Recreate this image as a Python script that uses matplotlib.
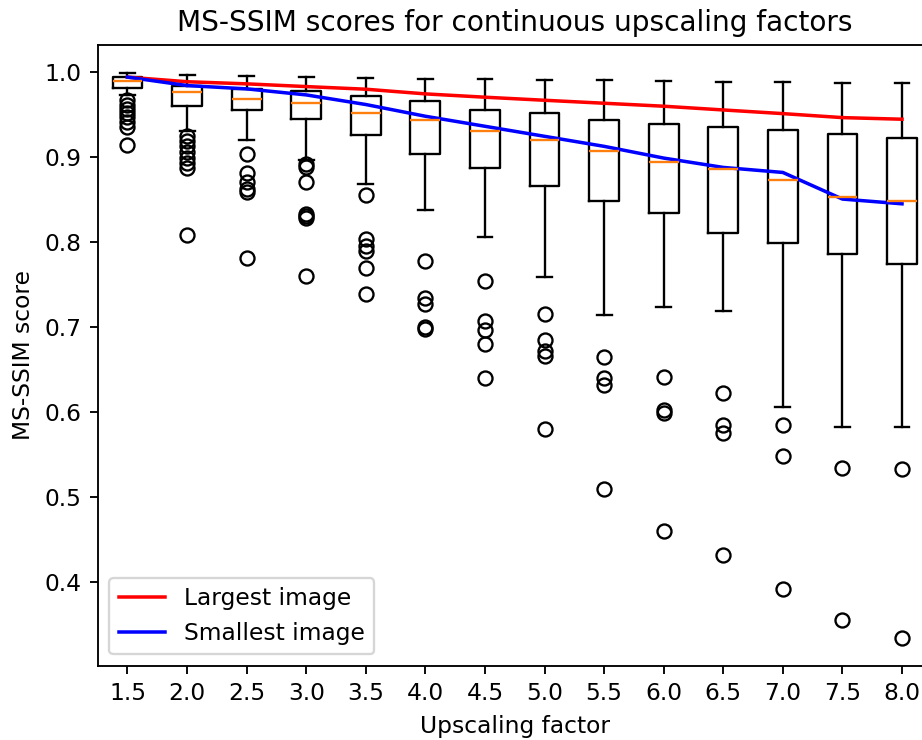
import numpy as np
import matplotlib
matplotlib.use("Agg")
import matplotlib.pyplot as plt

# upscaling factors (one box per factor)
factors = [1.5, 2.0, 2.5, 3.0, 3.5, 4.0, 4.5, 5.0, 5.5, 6.0, 6.5, 7.0, 7.5, 8.0]

# box statistics
whisker_hi = [0.998, 0.996, 0.995, 0.9937, 0.9926, 0.9914, 0.9914, 0.9906, 0.9898, 0.9887, 0.9879, 0.9875, 0.987, 0.9863]
q3 = [0.993, 0.9835, 0.980, 0.9776, 0.971, 0.965, 0.9545, 0.951, 0.9427, 0.938, 0.9344, 0.9312, 0.926, 0.9215]
medians = [0.9887, 0.9764, 0.968, 0.9627, 0.951, 0.9427, 0.930, 0.920, 0.9065, 0.8939, 0.8849, 0.872, 0.852, 0.8472]
q1 = [0.9808, 0.960, 0.955, 0.944, 0.9257, 0.903, 0.887, 0.8656, 0.8475, 0.8337, 0.810, 0.798, 0.785, 0.774]
whisker_lo = [0.972, 0.9297, 0.920, 0.896, 0.868, 0.8373, 0.8054, 0.758, 0.714, 0.7225, 0.718, 0.6054, 0.5818, 0.5818]
outliers = [
    [0.966, 0.961, 0.956, 0.951, 0.946, 0.941, 0.935, 0.913],
    [0.9245, 0.918, 0.912, 0.905, 0.898, 0.892, 0.886, 0.808],
    [0.903, 0.881, 0.870, 0.862, 0.858, 0.781],
    [0.891, 0.8876, 0.870, 0.832, 0.830, 0.828, 0.760],
    [0.855, 0.803, 0.795, 0.789, 0.769, 0.738],
    [0.777, 0.734, 0.727, 0.699, 0.697],
    [0.7535, 0.706, 0.696, 0.680, 0.639],
    [0.7153, 0.6848, 0.671, 0.665, 0.5798],
    [0.664, 0.6396, 0.631, 0.509],
    [0.6408, 0.602, 0.598, 0.460],
    [0.6223, 0.5845, 0.5748, 0.431],
    [0.5837, 0.548, 0.3915],
    [0.5338, 0.3546],
    [0.533, 0.334],
]

# MS-SSIM of the largest and the smallest test image
largest_image = [0.9934, 0.988, 0.9855, 0.9823, 0.9792, 0.9737, 0.9698, 0.9662, 0.9627, 0.9592, 0.9548, 0.9505, 0.9458, 0.9439]
smallest_image = [0.9934, 0.9835, 0.9796, 0.9725, 0.9612, 0.9474, 0.9356, 0.9238, 0.912, 0.8982, 0.8872, 0.8813, 0.850, 0.8444]

stats = []
for i in range(len(factors)):
    stats.append({
        "med": medians[i],
        "q1": q1[i],
        "q3": q3[i],
        "whislo": whisker_lo[i],
        "whishi": whisker_hi[i],
        "fliers": np.array(outliers[i]),
    })

dpi = 168
fig = plt.figure(figsize=(923 / dpi, 740 / dpi), dpi=dpi)
ax = fig.add_axes([97.7 / 923, 0.1, (931.8 - 97.7) / 923, (666 - 45) / 740])

positions = np.arange(1, len(factors) + 1)
ax.bxp(stats, positions=positions)
ax.plot(positions, largest_image, color="red", linewidth=1.5, label="Largest image")
ax.plot(positions, smallest_image, color="blue", linewidth=1.5, label="Smallest image")

ax.set_xticks(positions)
ax.set_xticklabels([f"{f:.1f}" for f in factors])
ax.set_xlim(0.5, len(factors) + 0.5)
ax.set_ylim(0.3008, 1.0312)
ax.set_title("MS-SSIM scores for continuous upscaling factors", fontsize=12)
ax.set_xlabel("Upscaling factor")
ax.set_ylabel("MS-SSIM score")
ax.legend(loc="lower left")

fig.savefig("out.png", dpi=dpi)
